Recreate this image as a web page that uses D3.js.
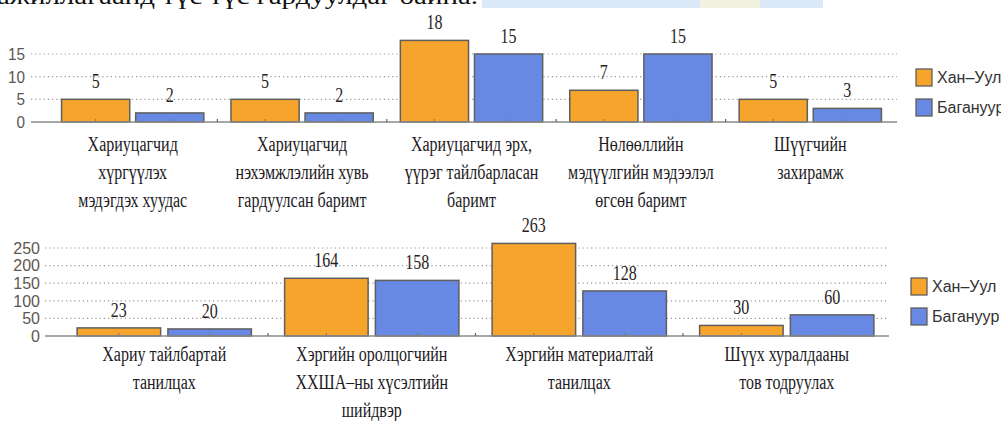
<!DOCTYPE html>
<html>
<head>
<meta charset="utf-8">
<script src="https://cdn.jsdelivr.net/npm/d3@7"></script>
<style>
  html, body { margin: 0; padding: 0; background: #fff; }
  svg { display: block; }
</style>
</head>
<body>
<svg id="chart" width="1001" height="421"></svg>
<script>
// ---- data ----
const seriesNames = ["Хан–Уул", "Багануур"];

const topCategories = [
  ["Хариуцагчид", "хүргүүлэх", "мэдэгдэх хуудас"],
  ["Хариуцагчид", "нэхэмжлэлийн хувь", "гардуулсан баримт"],
  ["Хариуцагчид эрх,", "үүрэг тайлбарласан", "баримт"],
  ["Нөлөөллийн", "мэдүүлгийн мэдээлэл", "өгсөн баримт"],
  ["Шүүгчийн", "захирамж"]
];
const topKhanUul = [5, 5, 18, 7, 5];
const topBaganuur = [2, 2, 15, 15, 3];
const topTicks = [0, 5, 10, 15];

const bottomCategories = [
  ["Хариу тайлбартай", "танилцах"],
  ["Хэргийн оролцогчийн", "ХХША–ны хүсэлтийн", "шийдвэр"],
  ["Хэргийн материалтай", "танилцах"],
  ["Шүүх хуралдааны", "тов тодруулах"]
];
const bottomKhanUul = [23, 164, 263, 30];
const bottomBaganuur = [20, 158, 128, 60];
const bottomTicks = [0, 50, 100, 150, 200, 250];

const introLine = "ажиллагаанд түс түс гардуулдаг байна.";

// ---- styles ----
const colors = { "Хан–Уул": "#F6A42B", "Багануур": "#6789E3" };
const serif = "'Liberation Serif', 'DejaVu Serif', serif";
const sans = "'Liberation Sans', Arial, sans-serif";

const svg = d3.select("#chart");

// tail of the preceding paragraph line
svg.append("rect").attr("x", 482).attr("y", 0).attr("width", 341).attr("height", 8)
  .attr("fill", "#dbe8f8");
svg.append("rect").attr("x", 700).attr("y", 0).attr("width", 60).attr("height", 8)
  .attr("fill", "#f5f2d8").attr("opacity", 0.8);
svg.append("text")
  .attr("x", -3).attr("y", 4)
  .attr("font-family", serif).attr("font-size", 24).attr("fill", "#111")
  .attr("textLength", 481).attr("lengthAdjust", "spacingAndGlyphs")
  .text(introLine);

function drawPanel(cfg) {
  const g = svg.append("g");
  const rows = cfg.categories.map((c, i) => ({
    idx: i, lines: c,
    values: [cfg.khanUul[i], cfg.baganuur[i]]
  }));

  const y = d3.scaleLinear().domain(cfg.yDomain).range(cfg.yRange);
  const x0 = d3.scaleBand().domain(rows.map(r => r.idx)).range(cfg.bandRange)
    .paddingInner(0).paddingOuter(0);
  const bw = x0.bandwidth();
  const x1 = d3.scaleBand().domain(seriesNames).range([0.08 * bw, 0.92 * bw])
    .paddingInner(0.08);

  // dotted gridlines
  g.selectAll("line.grid").data(cfg.ticks.filter(t => t > 0)).join("line")
    .attr("x1", cfg.gridX[0]).attr("x2", cfg.gridX[1])
    .attr("y1", d => y(d)).attr("y2", d => y(d))
    .attr("stroke", "#9a9a9a").attr("stroke-width", 1.2)
    .attr("stroke-dasharray", "1.2,3");

  // y tick labels
  g.selectAll("text.ytick").data(cfg.ticks).join("text")
    .attr("transform", d => `translate(${cfg.tickLabelX},${y(d)}) scale(${cfg.tickScale},1)`)
    .attr("dy", "0.36em").attr("text-anchor", "end")
    .attr("font-family", sans).attr("font-size", cfg.tickFont).attr("fill", "#5e5650")
    .text(d => d);

  // bars
  const groups = g.selectAll("g.cat").data(rows).join("g")
    .attr("transform", d => `translate(${x0(d.idx)},0)`);
  const bars = groups.selectAll("g.bar")
    .data(d => d.values.map((v, k) => ({ name: seriesNames[k], v })))
    .join("g");
  bars.append("rect")
    .attr("x", d => x1(d.name)).attr("width", x1.bandwidth())
    .attr("y", d => y(d.v)).attr("height", d => y(0) - y(d.v))
    .attr("fill", d => colors[d.name])
    .attr("stroke", "#5f5f5f").attr("stroke-width", 1.5);
  bars.append("line")
    .attr("x1", d => x1(d.name) + x1.bandwidth() / 2)
    .attr("x2", d => x1(d.name) + x1.bandwidth() / 2)
    .attr("y1", y(0)).attr("y2", y(0) - 3)
    .attr("stroke", "#777").attr("stroke-width", 1);
  bars.append("text")
    .attr("transform", d => `translate(${x1(d.name) + x1.bandwidth() / 2},${y(d.v) - 11}) scale(0.8,1)`)
    .attr("text-anchor", "middle")
    .attr("font-family", serif).attr("font-size", 20).attr("fill", "#2a1e22")
    .text(d => d.v);

  // baseline
  g.append("line")
    .attr("x1", cfg.gridX[0]).attr("x2", cfg.gridX[1])
    .attr("y1", y(0)).attr("y2", y(0))
    .attr("stroke", "#8a8a8a").attr("stroke-width", 1.6);
  // category separators
  g.selectAll("line.sep").data(rows.slice(1)).join("line")
    .attr("x1", d => x0(d.idx)).attr("x2", d => x0(d.idx))
    .attr("y1", y(0)).attr("y2", y(0) - 3)
    .attr("stroke", "#666").attr("stroke-width", 1.2);

  // category labels
  const lab = g.selectAll("g.lab").data(rows).join("g")
    .attr("transform", d => `translate(${x0(d.idx) + bw / 2},0)`);
  lab.selectAll("text").data(d => d.lines).join("text")
    .attr("transform", (d, i) => `translate(0,${cfg.labelBaseline + i * 28}) scale(0.8,1)`)
    .attr("text-anchor", "middle")
    .attr("font-family", serif).attr("font-size", 20).attr("fill", "#221a1e")
    .text(d => d);

  // legend
  const leg = g.selectAll("g.leg").data(seriesNames).join("g")
    .attr("transform", (d, i) => `translate(${cfg.legendX},${cfg.legendY + i * 30})`);
  leg.append("rect").attr("width", 16).attr("height", 17)
    .attr("fill", d => colors[d]).attr("stroke", "#5f5f5f").attr("stroke-width", 1.3);
  leg.append("text").attr("x", 21).attr("y", 8.5).attr("dy", "0.36em")
    .attr("font-family", sans).attr("font-size", 16).attr("fill", "#333")
    .text(d => d);
}

drawPanel({
  categories: topCategories, khanUul: topKhanUul, baganuur: topBaganuur, ticks: topTicks,
  yDomain: [0, 15], yRange: [122, 54], bandRange: [48, 895], gridX: [31, 897],
  tickLabelX: 25, tickFont: 17, tickScale: 0.9,
  labelBaseline: 151, legendX: 916, legendY: 69
});

drawPanel({
  categories: bottomCategories, khanUul: bottomKhanUul, baganuur: bottomBaganuur, ticks: bottomTicks,
  yDomain: [0, 250], yRange: [336, 248], bandRange: [60.5, 890.5], gridX: [45, 889],
  tickLabelX: 40, tickFont: 16, tickScale: 1,
  labelBaseline: 361, legendX: 911, legendY: 278
});
</script>
</body>
</html>
